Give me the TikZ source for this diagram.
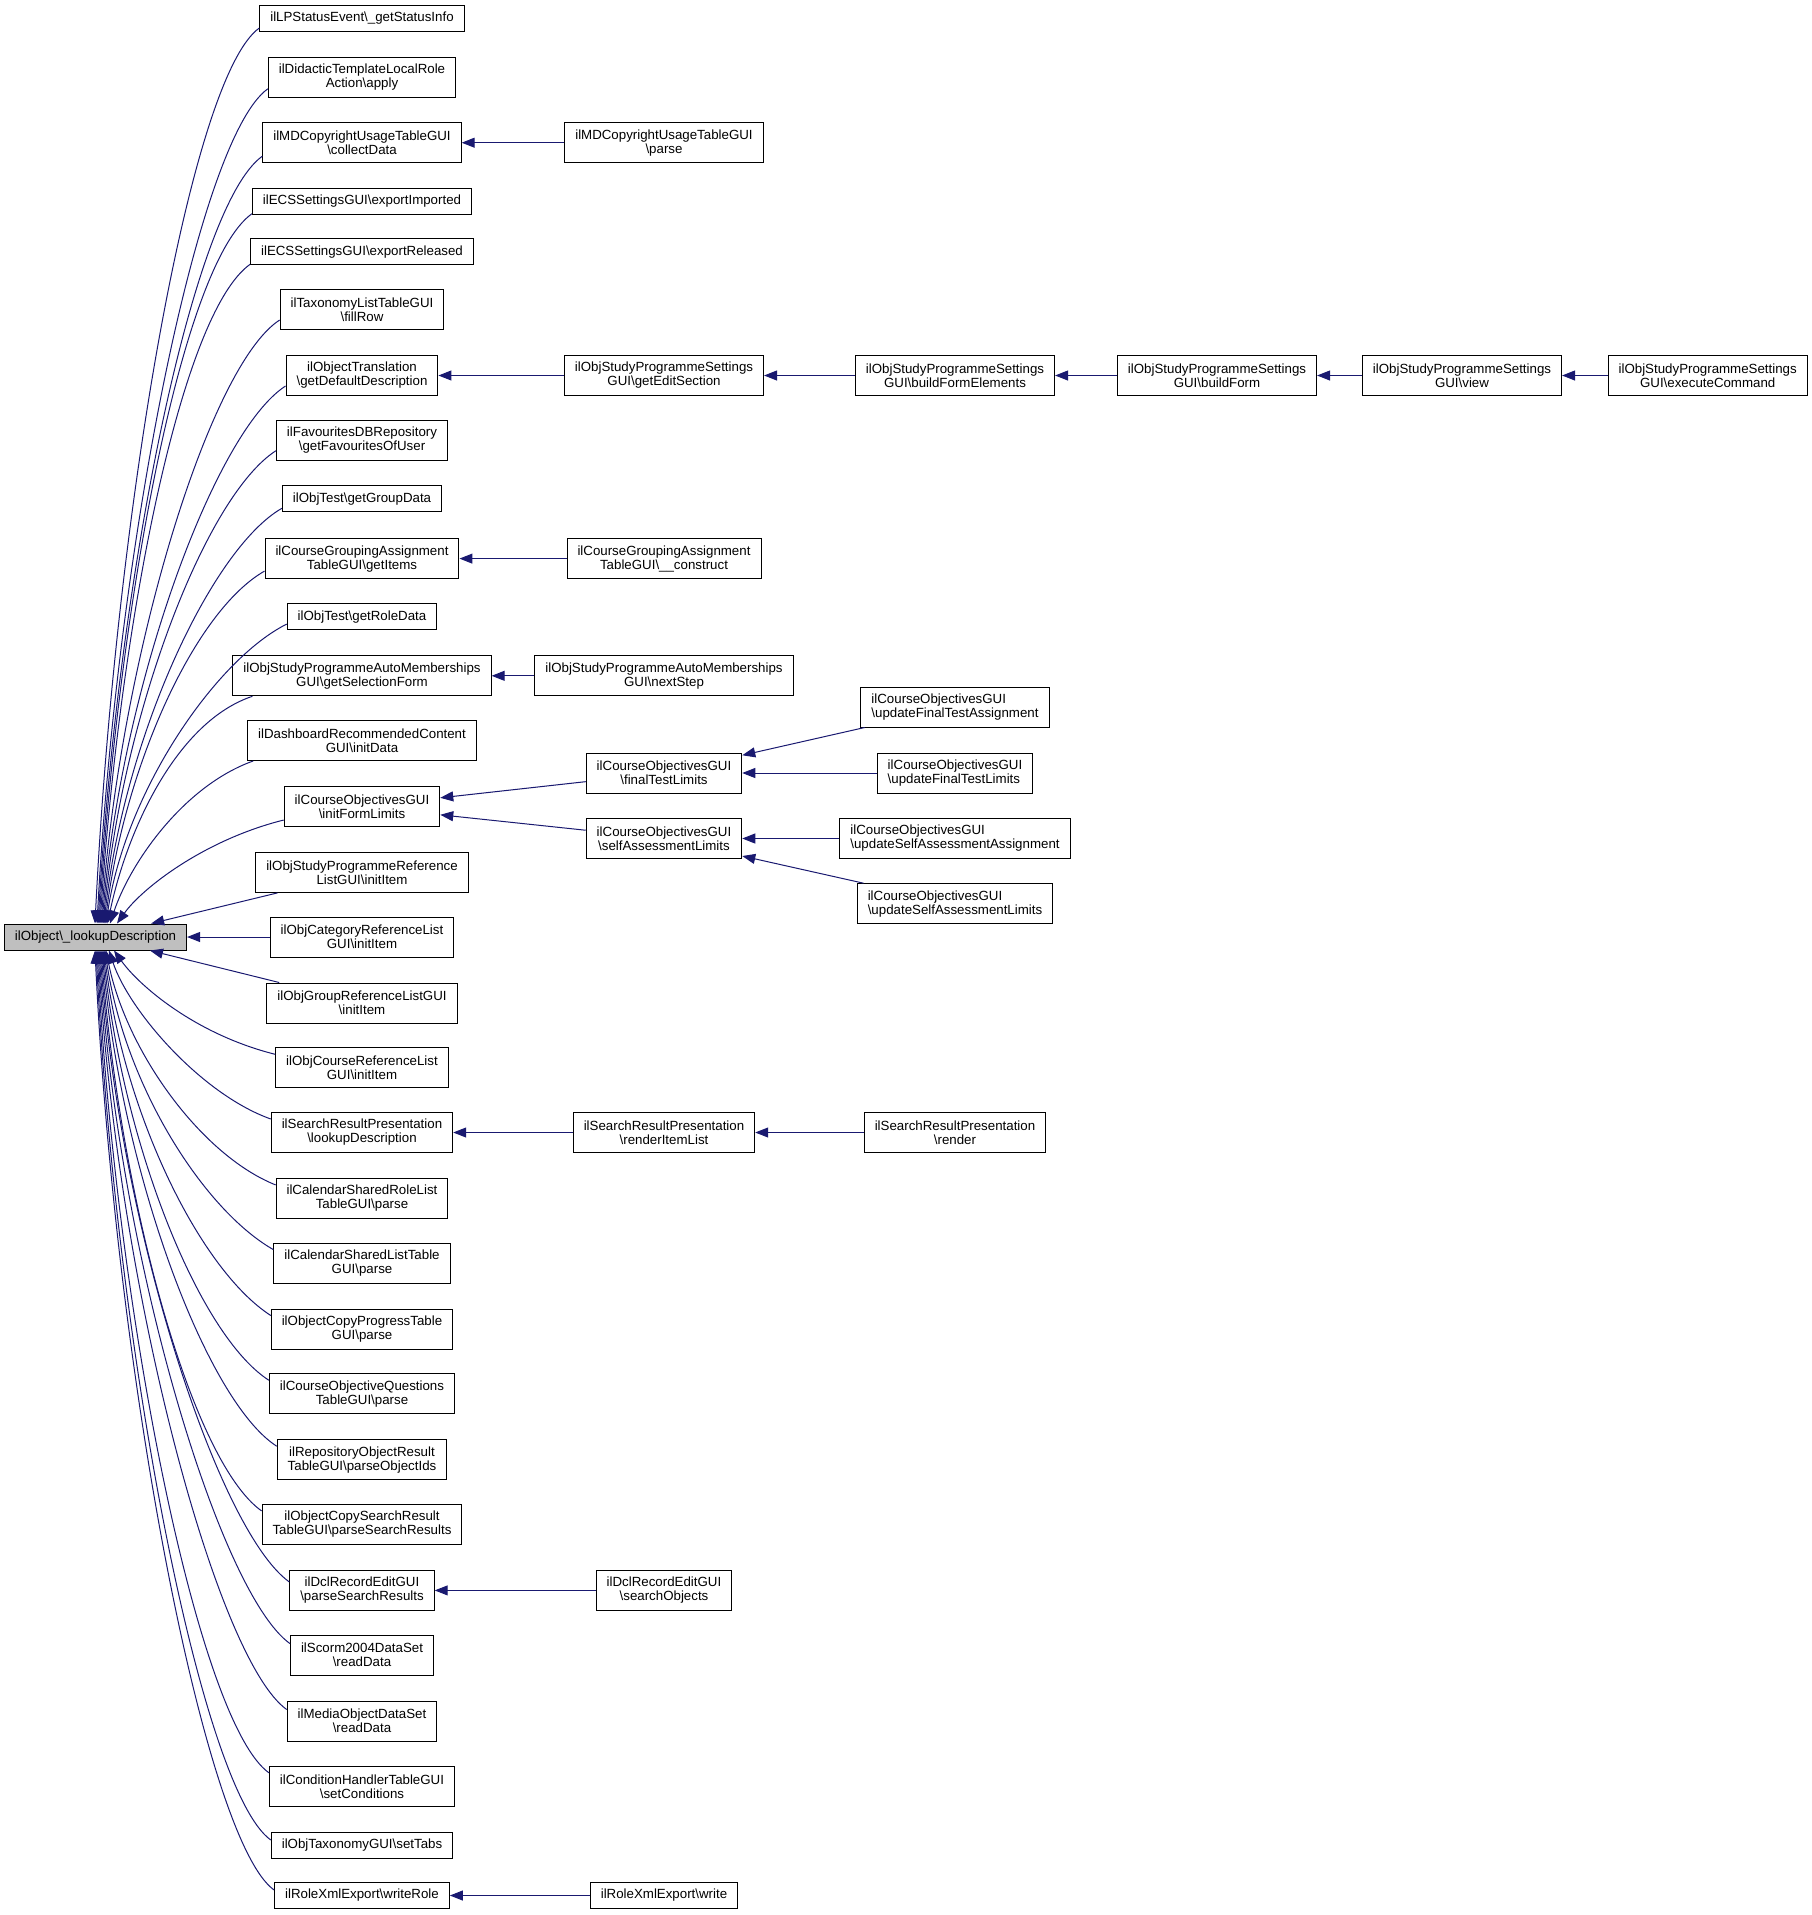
\documentclass[tikz,border=0pt]{standalone}
\usepackage{fontspec}
\setmainfont{Liberation Sans}
\usetikzlibrary{arrows.meta,calc}
\definecolor{edgeblue}{HTML}{191970}
\definecolor{rootgray}{HTML}{BFBFBF}
\newcommand{\bsl}{\textbackslash}
\begin{document}
\begin{tikzpicture}[x=1pt,y=-1pt,
  box/.style={draw=black, line width=1pt, fill=white, inner xsep=10.5pt, inner ysep=0pt,
    align=center, font=\fontsize{13.3}{14}\selectfont, minimum height=40pt},
  box1/.style={box, minimum height=26pt},
  lbox/.style={box, align=left},
  rootbox/.style={box1, fill=rootgray},
  edge/.style={draw=edgeblue, line width=1pt, -{Triangle[length=13pt,width=10pt]}}]
\useasboundingbox (0,0) rectangle (1812,1915);
% root
\node[rootbox] (root) at (95.5,937) {ilObject\bsl\_lookupDescription};
% column 1
\node[box1] (a1) at (362,18.5) {ilLPStatusEvent\bsl\_getStatusInfo};
\node[box] (a2) at (362,77.3) {ilDidacticTemplateLocalRole\\Action\bsl apply};
\node[box] (a3) at (362,142.7) {ilMDCopyrightUsageTableGUI\\\bsl collectData};
\node[box1] (a4) at (362,201.2) {ilECSSettingsGUI\bsl exportImported};
\node[box1] (a5) at (362,251.8) {ilECSSettingsGUI\bsl exportReleased};
\node[box] (a6) at (362,309.5) {ilTaxonomyListTableGUI\\\bsl fillRow};
\node[box] (a7) at (362,375.5) {ilObjectTranslation\\\bsl getDefaultDescription};
\node[box] (a8) at (362,440.2) {ilFavouritesDBRepository\\\bsl getFavouritesOfUser};
\node[box1] (a9) at (362,498.8) {ilObjTest\bsl getGroupData};
\node[box] (a10) at (362,558.6) {ilCourseGroupingAssignment\\TableGUI\bsl getItems};
\node[box1] (a11) at (362,616.6) {ilObjTest\bsl getRoleData};
\node[box] (a12) at (362,675.8) {ilObjStudyProgrammeAutoMemberships\\GUI\bsl getSelectionForm};
\node[box] (a13) at (362,740.5) {ilDashboardRecommendedContent\\GUI\bsl initData};
\node[box] (a14) at (362,806.5) {ilCourseObjectivesGUI\\\bsl initFormLimits};
\node[box] (a15) at (362,872.4) {ilObjStudyProgrammeReference\\ListGUI\bsl initItem};
\node[box] (a16) at (362,937) {ilObjCategoryReferenceList\\GUI\bsl initItem};
\node[box] (a17) at (362,1003) {ilObjGroupReferenceListGUI\\\bsl initItem};
\node[box] (a18) at (362,1067.8) {ilObjCourseReferenceList\\GUI\bsl initItem};
\node[box] (a19) at (362,1132.5) {ilSearchResultPresentation\\\bsl lookupDescription};
\node[box] (a20) at (362,1198.4) {ilCalendarSharedRoleList\\TableGUI\bsl parse};
\node[box] (a21) at (362,1263.1) {ilCalendarSharedListTable\\GUI\bsl parse};
\node[box] (a22) at (362,1329) {ilObjectCopyProgressTable\\GUI\bsl parse};
\node[box] (a23) at (362,1393.8) {ilCourseObjectiveQuestions\\TableGUI\bsl parse};
\node[box] (a24) at (362,1459.7) {ilRepositoryObjectResult\\TableGUI\bsl parseObjectIds};
\node[box] (a25) at (362,1524.4) {ilObjectCopySearchResult\\TableGUI\bsl parseSearchResults};
\node[box] (a26) at (362,1590.4) {ilDclRecordEditGUI\\\bsl parseSearchResults};
\node[box] (a27) at (362,1655.1) {ilScorm2004DataSet\\\bsl readData};
\node[box] (a28) at (362,1721) {ilMediaObjectDataSet\\\bsl readData};
\node[box] (a29) at (362,1786.3) {ilConditionHandlerTableGUI\\\bsl setConditions};
\node[box1] (a30) at (362,1845.5) {ilObjTaxonomyGUI\bsl setTabs};
\node[box1] (a31) at (362,1895.5) {ilRoleXmlExport\bsl writeRole};
% column 2
\node[box] (b3) at (664,142.7) {ilMDCopyrightUsageTableGUI\\\bsl parse};
\node[box] (b7) at (664,375.5) {ilObjStudyProgrammeSettings\\GUI\bsl getEditSection};
\node[box] (b10) at (664,558.6) {ilCourseGroupingAssignment\\TableGUI\bsl\_\_construct};
\node[box] (b12) at (664,675.8) {ilObjStudyProgrammeAutoMemberships\\GUI\bsl nextStep};
\node[box] (b14a) at (664,773) {ilCourseObjectivesGUI\\\bsl finalTestLimits};
\node[box] (b14b) at (664,838.5) {ilCourseObjectivesGUI\\\bsl selfAssessmentLimits};
\node[box] (b19) at (664,1132.5) {ilSearchResultPresentation\\\bsl renderItemList};
\node[box] (b26) at (664,1590.4) {ilDclRecordEditGUI\\\bsl searchObjects};
\node[box1] (b31) at (664,1895.5) {ilRoleXmlExport\bsl write};
% column 3
\node[box] (c7) at (955,375.5) {ilObjStudyProgrammeSettings\\GUI\bsl buildFormElements};
\node[lbox] (c1) at (955,707) {ilCourseObjectivesGUI\\\bsl updateFinalTestAssignment};
\node[lbox] (c2) at (955,773) {ilCourseObjectivesGUI\\\bsl updateFinalTestLimits};
\node[lbox] (c3) at (955,838.5) {ilCourseObjectivesGUI\\\bsl updateSelfAssessmentAssignment};
\node[lbox] (c4) at (955,903.7) {ilCourseObjectivesGUI\\\bsl updateSelfAssessmentLimits};
\node[box] (c19) at (955,1132.5) {ilSearchResultPresentation\\\bsl render};
% columns 4-6
\node[box] (d7) at (1217,375.5) {ilObjStudyProgrammeSettings\\GUI\bsl buildForm};
\node[box] (e7) at (1462,375.5) {ilObjStudyProgrammeSettings\\GUI\bsl view};
\node[box] (f7) at (1707.7,375.5) {ilObjStudyProgrammeSettings\\GUI\bsl executeCommand};
% straight edges
\draw[edge] (b3) -- (a3);
\draw[edge] (b7) -- (a7);
\draw[edge] (c7) -- (b7);
\draw[edge] (d7) -- (c7);
\draw[edge] (e7) -- (d7);
\draw[edge] (f7) -- (e7);
\draw[edge] (b10) -- (a10);
\draw[edge] (b12) -- (a12);
\draw[edge] (b14a) -- (a14);
\draw[edge] (b14b) -- (a14);
\draw[edge] (c1) -- (b14a);
\draw[edge] (c2) -- (b14a);
\draw[edge] (c3) -- (b14b);
\draw[edge] (c4) -- (b14b);
\draw[edge] (b19) -- (a19);
\draw[edge] (c19) -- (b19);
\draw[edge] (b26) -- (a26);
\draw[edge] (b31) -- (a31);
\draw[edge] (a15) -- (root);
\draw[edge] (a16) -- (root);
\draw[edge] (a17) -- (root);
% curved edges, upper
\draw[edge] ($(a1.south west)+(0pt,4pt)$) .. controls +(-70,50) and +(20,-403) .. ($(root.north)+(-0.5pt,0pt)$);
\draw[edge] ($(a2.south west)+(0pt,9pt)$) .. controls +(-70,50) and +(20,-375) .. ($(root.north)+(1.5pt,0pt)$);
\draw[edge] ($(a3.south west)+(0pt,7pt)$) .. controls +(-70,50) and +(20,-346) .. ($(root.north)+(2.5pt,0pt)$);
\draw[edge] ($(a4.south west)+(0pt,1pt)$) .. controls +(-70,50) and +(20,-321) .. ($(root.north)+(3.5pt,0pt)$);
\draw[edge] ($(a5.south west)+(0pt,1pt)$) .. controls +(-70,50) and +(20,-298) .. ($(root.north)+(4.5pt,0pt)$);
\draw[edge] ($(a6.south west)+(0pt,10pt)$) .. controls +(-70,45) and +(20,-270) .. ($(root.north)+(5.5pt,0pt)$);
\draw[edge] ($(a7.south west)+(0pt,10pt)$) .. controls +(-70,45) and +(20,-241) .. ($(root.north)+(6.5pt,0pt)$);
\draw[edge] ($(a8.south west)+(0pt,10pt)$) .. controls +(-70,45) and +(20,-212) .. ($(root.north)+(7.5pt,0pt)$);
\draw[edge] ($(a9.south west)+(0pt,4pt)$) .. controls +(-70,40) and +(20,-187) .. ($(root.north)+(8.5pt,0pt)$);
\draw[edge] ($(a10.south west)+(0pt,8pt)$) .. controls +(-70,40) and +(20,-158) .. ($(root.north)+(9.5pt,0pt)$);
\draw[edge] ($(a11.south west)+(0pt,6pt)$) .. controls +(-70,35) and +(20,-134) .. ($(root.north)+(10.5pt,0pt)$);
\draw[edge] ($(a12.south west)+(20pt,0pt)$) .. controls +(-75,25) and +(20,-95) .. ($(root.north)+(12pt,0pt)$);
\draw[edge] ($(a13.south west)+(6pt,0pt)$) .. controls +(-70,25) and +(20,-60) .. ($(root.north)+(14.5pt,0pt)$);
\draw[edge] ($(a14.south west)+(0pt,7pt)$) .. controls +(-80,20) and +(25,-35) .. ($(root.north)+(21.5pt,0pt)$);
% curved edges, lower
\draw[edge] ($(a18.north west)+(0pt,-7pt)$) .. controls +(-80,-20) and +(25,35) .. ($(root.south)+(18.5pt,0pt)$);
\draw[edge] ($(a19.north west)+(0pt,-7pt)$) .. controls +(-70,-25) and +(20,60) .. ($(root.south)+(13.5pt,0pt)$);
\draw[edge] ($(a20.north west)+(0pt,-7pt)$) .. controls +(-75,-30) and +(20,100) .. ($(root.south)+(10.5pt,0pt)$);
\draw[edge] ($(a21.north west)+(0pt,-7pt)$) .. controls +(-70,-40) and +(20,135) .. ($(root.south)+(9.5pt,0pt)$);
\draw[edge] ($(a22.north west)+(0pt,-7pt)$) .. controls +(-70,-45) and +(20,165) .. ($(root.south)+(8.5pt,0pt)$);
\draw[edge] ($(a23.north west)+(0pt,-7pt)$) .. controls +(-70,-45) and +(20,194) .. ($(root.south)+(7.5pt,0pt)$);
\draw[edge] ($(a24.north west)+(0pt,-7pt)$) .. controls +(-70,-45) and +(20,224) .. ($(root.south)+(6.5pt,0pt)$);
\draw[edge] ($(a25.north west)+(0pt,-7pt)$) .. controls +(-70,-50) and +(20,252) .. ($(root.south)+(5.5pt,0pt)$);
\draw[edge] ($(a26.north west)+(0pt,-12pt)$) .. controls +(-70,-50) and +(20,282) .. ($(root.south)+(4.5pt,0pt)$);
\draw[edge] ($(a27.north west)+(0pt,-9pt)$) .. controls +(-70,-50) and +(20,311) .. ($(root.south)+(3.5pt,0pt)$);
\draw[edge] ($(a28.north west)+(0pt,-9pt)$) .. controls +(-70,-50) and +(20,341) .. ($(root.south)+(2.5pt,0pt)$);
\draw[edge] ($(a29.north west)+(0pt,-7pt)$) .. controls +(-70,-50) and +(20,370) .. ($(root.south)+(1.5pt,0pt)$);
\draw[edge] ($(a30.north west)+(0pt,-8pt)$) .. controls +(-70,-50) and +(20,399) .. ($(root.south)+(0.5pt,0pt)$);
\draw[edge] ($(a31.north west)+(0pt,-8pt)$) .. controls +(-70,-50) and +(20,421) .. ($(root.south)+(-0.5pt,0pt)$);
\end{tikzpicture}
\end{document}
